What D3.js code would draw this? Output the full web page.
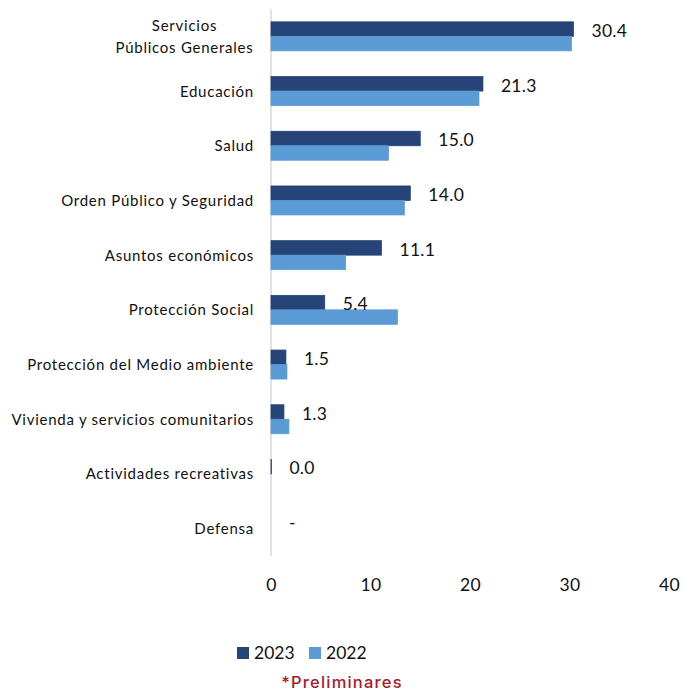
<!DOCTYPE html>
<html>
<head>
<meta charset="utf-8">
<script src="https://cdn.jsdelivr.net/npm/d3@7"></script>
<style>
  html, body { margin: 0; padding: 0; background: #fff; }
  svg { display: block; }
</style>
</head>
<body>
<svg id="chart" width="685" height="692"></svg>
<script>
// Spending by function (share, %), 2023 vs 2022
const categories = [
  "Servicios\nPúblicos Generales",
  "Educación",
  "Salud",
  "Orden Público y Seguridad",
  "Asuntos económicos",
  "Protección Social",
  "Protección del Medio ambiente",
  "Vivienda y servicios comunitarios",
  "Actividades recreativas",
  "Defensa"
];
const values2023 = [30.4, 21.3, 15.0, 14.0, 11.1, 5.4, 1.5, 1.3, 0.04, null];
const values2022 = [30.2, 20.9, 11.8, 13.4, 7.5, 12.7, 1.6, 1.8, 0, null];
const seriesNames = ["2023", "2022"];
const xTicks = [0, 10, 20, 30, 40];

const colors = { "2023": "#264478", "2022": "#5b9bd5" };
const fontFamily = "Lato, 'Open Sans', sans-serif";

const svg = d3.select("#chart");

const x = d3.scaleLinear().domain([0, 40]).range([271, 669]);
const y = d3.scaleBand().domain(categories).range([9, 556])
  .paddingInner(0.47).paddingOuter(0.235);
const ySub = d3.scaleBand().domain(seriesNames).range([0, y.bandwidth()]);

const rows = categories.map((c, i) => ({ cat: c, v2023: values2023[i], v2022: values2022[i] }));

// vertical axis line
svg.append("line")
  .attr("x1", x(0)).attr("x2", x(0))
  .attr("y1", 9).attr("y2", 556)
  .attr("stroke", "#d9d9d9").attr("stroke-width", 1.5);

// bars
const groups = svg.append("g").selectAll("g")
  .data(rows).join("g")
  .attr("transform", d => `translate(0,${y(d.cat)})`);

seriesNames.forEach(s => {
  groups.filter(d => d["v" + s] != null && d["v" + s] > 0)
    .append("rect")
    .attr("x", x(0))
    .attr("y", ySub(s))
    .attr("width", d => x(d["v" + s]) - x(0))
    .attr("height", ySub.bandwidth())
    .attr("fill", colors[s])
    .attr("stroke", colors[s])
    .attr("stroke-width", 0.8);
});

// value labels for 2023
groups.append("text")
  .attr("x", d => x(d.v2023 == null ? 0 : d.v2023) + 18)
  .attr("y", 15)
  .attr("font-family", fontFamily)
  .attr("font-size", 17.5)
  .attr("letter-spacing", 0.3)
  .attr("fill", "#111")
  .text(d => d.v2023 == null ? "-" : d3.format(".1f")(d.v2023));

// category labels
const yAxis = svg.append("g");
rows.forEach(d => {
  const lines = d.cat.split("\n");
  const cy = y(d.cat) + y.bandwidth() / 2 - 0.5;
  const t = yAxis.append("text")
    .attr("font-family", fontFamily)
    .attr("font-size", 15)
    .attr("letter-spacing", 0.75)
    .attr("fill", "#111")
    .attr("dominant-baseline", "central");
  if (lines.length === 1) {
    t.attr("x", 254).attr("y", cy).attr("text-anchor", "end").text(lines[0]);
  } else {
    t.attr("text-anchor", "middle");
    lines.forEach((ln, k) => {
      t.append("tspan")
        .attr("x", 184.5)
        .attr("y", cy + (k - (lines.length - 1) / 2) * 21.5)
        .text(ln);
    });
  }
});

// x-axis tick labels
const xAxis = d3.axisBottom(x).tickValues(xTicks).tickSize(0).tickPadding(0).tickFormat(d3.format("d"));
const gx = svg.append("g").attr("transform", "translate(0,579)").call(xAxis);
gx.select(".domain").remove();
gx.selectAll("text")
  .attr("font-family", fontFamily)
  .attr("font-size", 17.5)
  .attr("letter-spacing", 0.3)
  .attr("fill", "#111");

// legend
const legend = svg.append("g").attr("transform", "translate(237,647)");
const legendX = { "2023": 0, "2022": 72 };
seriesNames.forEach(s => {
  const g = legend.append("g").attr("transform", `translate(${legendX[s]},0)`);
  g.append("rect").attr("width", 12).attr("height", 12).attr("fill", colors[s]);
  g.append("text")
    .attr("x", 17).attr("y", 11.5)
    .attr("font-family", fontFamily)
    .attr("font-size", 17.5)
    .attr("fill", "#111")
    .text(s);
});

// footnote
svg.append("text")
  .attr("x", 342).attr("y", 688)
  .attr("text-anchor", "middle")
  .attr("font-family", "Inter, Roboto, sans-serif")
  .attr("font-size", 16.5)
  .attr("font-weight", 500)
  .attr("letter-spacing", 1.2)
  .attr("fill", "#a6192e")
  .text("*Preliminares");
</script>
</body>
</html>
